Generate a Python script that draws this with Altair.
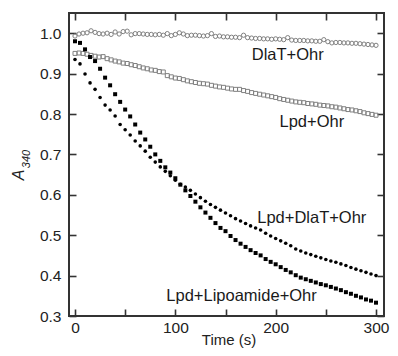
import altair as alt
import pandas as pd

# ---- data ----
time_open = list(range(0, 301, 4))      # open-symbol series, s
time_filled = list(range(0, 301, 5))    # filled-symbol series, s

dlat_ohr = [
    0.993, 0.998, 1.000, 1.001, 1.006, 1.002, 0.999, 0.998, 1.000, 0.997,
    1.003, 0.998, 1.004, 1.005, 0.996, 0.999, 0.999, 0.998, 0.997, 0.997,
    0.996, 0.997, 0.995, 0.999, 0.994, 0.997, 1.001, 0.998, 0.994, 0.995,
    0.995, 0.994, 0.993, 0.994, 0.999, 0.992, 0.993, 0.991, 0.991, 0.990,
    0.990, 0.989, 0.995, 0.989, 0.988, 0.987, 0.987, 0.986, 0.986, 0.985,
    0.986, 0.985, 0.984, 0.989, 0.983, 0.982, 0.982, 0.982, 0.981, 0.981,
    0.980, 0.980, 0.984, 0.979, 0.976, 0.977, 0.977, 0.976, 0.976, 0.975,
    0.975, 0.974, 0.973, 0.972, 0.971, 0.970,
]
lpd_ohr = [
    0.950, 0.951, 0.950, 0.948, 0.945, 0.943, 0.941, 0.942, 0.937, 0.934,
    0.931, 0.929, 0.926, 0.925, 0.922, 0.920, 0.917, 0.914, 0.912, 0.909,
    0.908, 0.905, 0.904, 0.895, 0.892, 0.889, 0.888, 0.885, 0.882, 0.880,
    0.878, 0.876, 0.875, 0.874, 0.871, 0.869, 0.867, 0.866, 0.864, 0.862,
    0.861, 0.861, 0.858, 0.856, 0.853, 0.851, 0.849, 0.847, 0.845, 0.843,
    0.841, 0.838, 0.836, 0.834, 0.832, 0.830, 0.829, 0.828, 0.826, 0.825,
    0.824, 0.822, 0.821, 0.820, 0.818, 0.817, 0.815, 0.813, 0.811, 0.810,
    0.808, 0.806, 0.803, 0.801, 0.799, 0.797,
]
lpd_dlat_ohr = [
    0.935, 0.924, 0.899, 0.877, 0.861, 0.841, 0.822, 0.810, 0.795, 0.774,
    0.761, 0.748, 0.733, 0.721, 0.708, 0.693, 0.681, 0.669, 0.658, 0.647,
    0.636, 0.626, 0.619, 0.611, 0.602, 0.593, 0.584, 0.576, 0.569, 0.562,
    0.555, 0.548, 0.541, 0.535, 0.529, 0.523, 0.518, 0.513, 0.505, 0.498,
    0.492, 0.486, 0.480, 0.474, 0.466, 0.461, 0.456, 0.452, 0.448, 0.444,
    0.440, 0.436, 0.433, 0.429, 0.425, 0.420, 0.416, 0.412, 0.408, 0.404,
    0.400,
]
lpd_lipo_ohr = [
    0.980, 0.976, 0.960, 0.941, 0.931, 0.912, 0.890, 0.871, 0.849, 0.830,
    0.811, 0.794, 0.774, 0.754, 0.737, 0.719, 0.700, 0.684, 0.668, 0.655,
    0.641, 0.625, 0.611, 0.597, 0.583, 0.569, 0.556, 0.543, 0.530, 0.518,
    0.510, 0.498, 0.488, 0.479, 0.471, 0.463, 0.456, 0.450, 0.441, 0.434,
    0.428, 0.421, 0.414, 0.408, 0.401, 0.395, 0.391, 0.387, 0.383, 0.379,
    0.376, 0.372, 0.368, 0.364, 0.359, 0.355, 0.350, 0.346, 0.341, 0.338,
    0.333,
]

label_text = ["DlaT+Ohr", "Lpd+Ohr", "Lpd+DlaT+Ohr", "Lpd+Lipoamide+Ohr"]
label_time = [212, 236, 236, 166]
label_abs = [0.945, 0.780, 0.542, 0.349]

x_ticks = [0, 50, 100, 150, 200, 250, 300]
x_labels = [0, 100, 200, 300]
y_ticks = [0.3, 0.4, 0.5, 0.6, 0.7, 0.8, 0.9, 1.0]

# ---- styling ----
FONT = "Liberation Sans"
W, H = 315, 303
xs = alt.Scale(domain=[-5.98, 307.97], nice=False, zero=False)
ys = alt.Scale(domain=[0.3, 1.05], nice=False, zero=False)
TICK = 7


def df(t, v):
    return pd.DataFrame({"t": t, "a": v})


def points(d, shape, filled, color, size):
    return alt.Chart(d).mark_point(
        shape=shape, filled=filled, color=color, size=size,
        strokeWidth=1, opacity=1
    ).encode(
        x=alt.X("t:Q", scale=xs, axis=None),
        y=alt.Y("a:Q", scale=ys, axis=None),
    )


base = df(time_filled, lpd_dlat_ohr)

# axes with labels (left / bottom)
label_axes = alt.Chart(base).mark_point(opacity=0).encode(
    x=alt.X("t:Q", scale=xs, axis=alt.Axis(
        orient="bottom", values=x_labels, ticks=False, domain=False, grid=False,
        labelPadding=4, labelFont=FONT, labelFontSize=15.5, labelColor="#222",
        title=None)),
    y=alt.Y("a:Q", scale=ys, axis=alt.Axis(
        orient="left", values=y_ticks, format=".1f", ticks=False, domain=False,
        grid=False, labelPadding=8, labelFont=FONT, labelFontSize=15.5,
        labelColor="#222", title=None)),
)


def tick_axes(xorient, yorient):
    return alt.Chart(base).mark_point(opacity=0).encode(
        x=alt.X("t:Q", scale=xs, axis=alt.Axis(
            orient=xorient, values=x_ticks, labels=False, domain=False,
            grid=False, tickSize=TICK, tickWidth=1.6, tickColor="#333",
            offset=-TICK, title=None)),
        y=alt.Y("a:Q", scale=ys, axis=alt.Axis(
            orient=yorient, values=y_ticks, labels=False, domain=False,
            grid=False, tickSize=TICK, tickWidth=1.6, tickColor="#333",
            offset=-TICK, title=None)),
    )


s1 = points(df(time_open, dlat_ohr), "circle", False, "#808080", 18)
s2 = points(df(time_open, lpd_ohr), "square", False, "#808080", 16)
s3 = points(df(time_filled, lpd_dlat_ohr), "circle", True, "#000000", 13)
s4 = points(df(time_filled, lpd_lipo_ohr), "square", True, "#000000", 16)

labels = alt.Chart(pd.DataFrame({"txt": label_text, "t": label_time, "a": label_abs})).mark_text(
    font=FONT, fontSize=16.5, color="#1a1a1a", align="center", baseline="middle"
).encode(
    x=alt.X("t:Q", scale=xs, axis=None),
    y=alt.Y("a:Q", scale=ys, axis=None),
    text="txt:N",
)

xtitle = alt.Chart(pd.DataFrame({"s": ["Time (s)"]})).mark_text(
    font=FONT, fontSize=15, color="#222", align="center", baseline="alphabetic"
).encode(text="s:N", x=alt.value(160), y=alt.value(H + 29))

ytitle_a = alt.Chart(pd.DataFrame({"s": ["A"]})).mark_text(
    font=FONT, fontSize=16, fontStyle="italic", angle=270, color="#222",
    align="center", baseline="middle"
).encode(text="s:N", x=alt.value(-50), y=alt.value(162))

ytitle_sub = alt.Chart(pd.DataFrame({"s": ["340"]})).mark_text(
    font=FONT, fontSize=11, fontStyle="italic", angle=270, color="#222",
    align="center", baseline="middle"
).encode(text="s:N", x=alt.value(-42.5), y=alt.value(146))

chart = alt.layer(
    label_axes, tick_axes("bottom", "left"), tick_axes("top", "right"),
    s1, s2, s3, s4, labels, xtitle, ytitle_a, ytitle_sub,
).resolve_axis(
    x="independent", y="independent"
).properties(
    width=W, height=H,
    autosize=alt.AutoSizeParams(type="none"),
    padding={"left": 61, "top": 5, "right": 6, "bottom": 32},
).configure_view(
    stroke="#333", strokeWidth=2
)

chart.save("out.html", embed_options={"renderer": "svg", "actions": False})
